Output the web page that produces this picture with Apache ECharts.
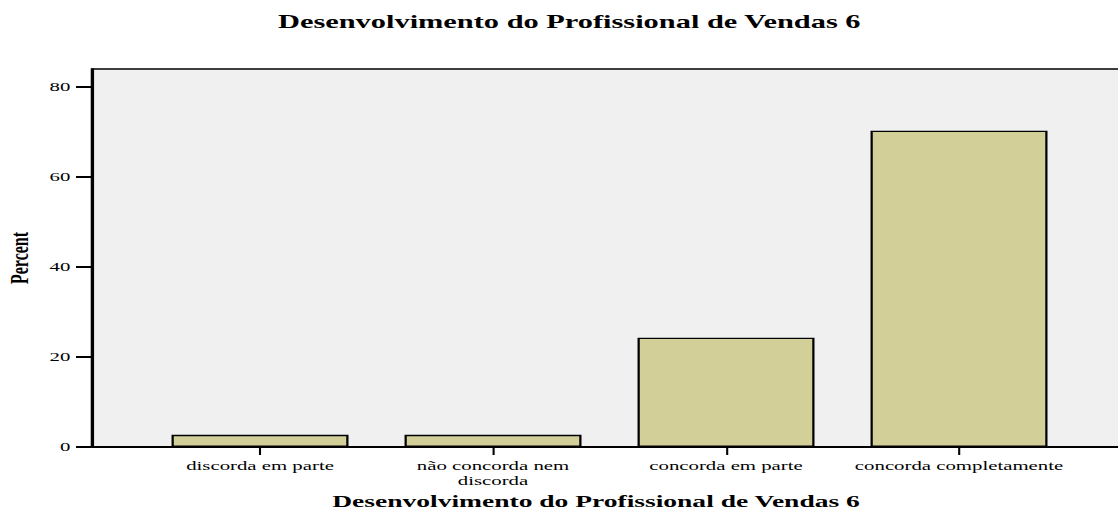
<!DOCTYPE html>
<html>
<head>
<meta charset="utf-8">
<script src="https://cdn.jsdelivr.net/npm/echarts@6/dist/echarts.min.js"></script>
<style>
html,body{margin:0;padding:0;background:#fff;overflow:hidden}
/* the reference chart is horizontally stretched; draw at a narrower width and stretch */
#c{width:698.75px;height:511px;transform:scaleX(1.6);transform-origin:0 0}
</style>
</head>
<body>
<div id="c"></div>
<script>
const chartTitle = 'Desenvolvimento do Profissional de Vendas 6';
const xAxisTitle = 'Desenvolvimento do Profissional de Vendas 6';
const categories = ['discorda em parte', 'não concorda nem\ndiscorda', 'concorda em parte', 'concorda completamente'];
const percentValues = [2.7, 2.7, 24.3, 70.3];
const yTicks = [0, 20, 40, 60, 80];
const yAxisName = 'Percent';

const serif = '"Liberation Serif", "Times New Roman", serif';
const chart = echarts.init(document.getElementById('c'), null, { renderer: 'svg' });
chart.setOption({
  animation: false,
  backgroundColor: '#fff',
  title: [
    { text: chartTitle, left: 350.8, textAlign: 'center', top: 7,
      textStyle: { fontFamily: serif, fontWeight: 'bold', fontSize: 19, color: '#000' } },
    { text: xAxisTitle, left: 367.5, textAlign: 'center', top: 488,
      textStyle: { fontFamily: serif, fontWeight: 'bold', fontSize: 17.2, color: '#000' } }
  ],
  grid: [
    { left: 57.5, right: -7.5, top: 69, bottom: 64, outerBoundsMode: 'none', containLabel: false,
      show: true, backgroundColor: '#f0f0f0', borderColor: '#000', borderWidth: 1.6 },
    { left: 89.7, width: 582.5, top: 69, bottom: 64, outerBoundsMode: 'none', containLabel: false }
  ],
  xAxis: [
    { type: 'value', gridIndex: 0, min: 0, max: 1,
      axisLine: { show: true, lineStyle: { color: '#000', width: 2 } },
      axisTick: { show: false }, axisLabel: { show: false }, splitLine: { show: false } },
    { type: 'category', gridIndex: 1, data: categories,
      axisLine: { show: false },
      axisTick: { show: true, alignWithLabel: true, length: 8, lineStyle: { color: '#000', width: 1.3 } },
      axisLabel: { margin: 11, fontFamily: serif, fontSize: 13, color: '#000', lineHeight: 15, interval: 0 } }
  ],
  yAxis: [
    { type: 'value', gridIndex: 0, min: 0, max: 84, interval: 20,
      axisLine: { show: true, lineStyle: { color: '#000', width: 1.6 } },
      axisTick: { show: true, length: 10, customValues: yTicks, lineStyle: { color: '#000', width: 2 } },
      axisLabel: { margin: 13.5, customValues: yTicks, fontFamily: serif, fontSize: 13, color: '#000' },
      splitLine: { show: false },
      name: yAxisName, nameLocation: 'middle', nameGap: 37,
      nameTextStyle: { fontFamily: serif, fontWeight: 'bold', fontSize: 16, color: '#000' } },
    { type: 'value', gridIndex: 1, min: 0, max: 84, show: false, splitLine: { show: false } }
  ],
  series: [{
    type: 'bar', xAxisIndex: 1, yAxisIndex: 1, data: percentValues, barWidth: 110.6,
    itemStyle: { color: '#d3cf98', borderColor: '#000', borderWidth: 1.4 }
  }]
});
</script>
</body>
</html>
